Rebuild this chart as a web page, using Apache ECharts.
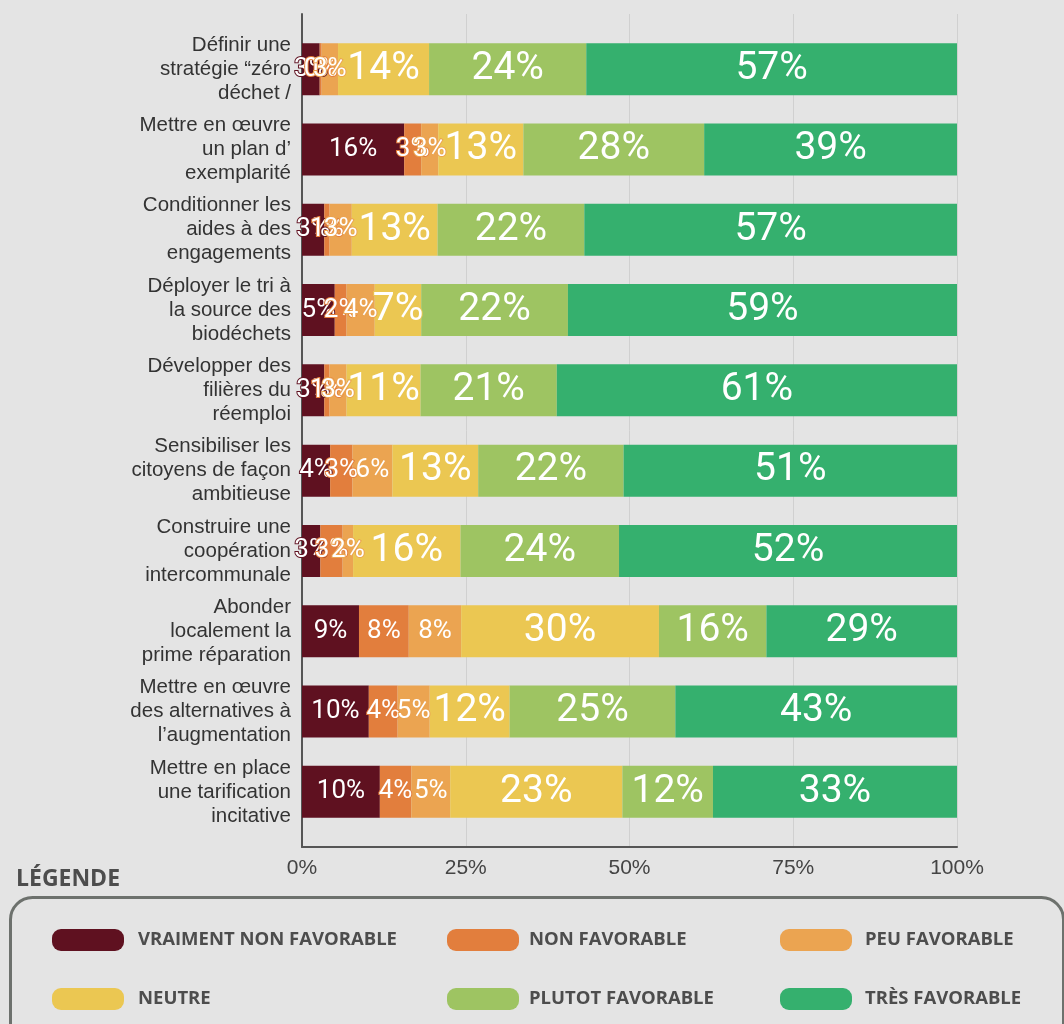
<!DOCTYPE html>
<html>
<head>
<meta charset="utf-8">
<script src="https://cdn.jsdelivr.net/npm/echarts@6/dist/echarts.min.js"></script>
<style>
html,body{margin:0;padding:0;background:#e4e4e4;}
#chart{width:1064px;height:1024px;}
</style>
</head>
<body>
<div id="chart"></div>
<script>
const categories = [
  'Définir une\nstratégie “zéro\ndéchet /',
  'Mettre en œuvre\nun plan d’\nexemplarité',
  'Conditionner les\naides à des\nengagements',
  'Déployer le tri à\nla source des\nbiodéchets',
  'Développer des\nfilières du\nréemploi',
  'Sensibiliser les\ncitoyens de façon\nambitieuse',
  'Construire une\ncoopération\nintercommunale',
  'Abonder\nlocalement la\nprime réparation',
  'Mettre en œuvre\ndes alternatives à\nl’augmentation',
  'Mettre en place\nune tarification\nincitative'
];
const seriesNames = ['VRAIMENT NON FAVORABLE', 'NON FAVORABLE', 'PEU FAVORABLE', 'NEUTRE', 'PLUTOT FAVORABLE', 'TRÈS FAVORABLE'];
const vraimentNonFavorable = [2.7, 15.6, 3.4, 5.0, 3.4, 4.3, 2.8, 8.7, 10.2, 10.4];
const nonFavorable         = [0.3, 2.6, 0.8, 1.8, 0.8, 3.4, 3.4, 7.6, 4.4, 4.2];
const peuFavorable         = [2.5, 2.6, 3.4, 4.3, 2.6, 6.1, 1.6, 8.0, 4.9, 5.2];
const neutre               = [13.9, 13.0, 13.1, 7.1, 11.3, 13.1, 16.4, 30.2, 12.2, 23.0];
const plutotFavorable      = [24.0, 27.6, 22.4, 22.4, 20.8, 22.2, 24.2, 16.4, 25.3, 12.1];
const tresFavorable        = [56.6, 38.6, 56.9, 59.4, 61.1, 50.9, 51.6, 29.1, 43.0, 32.6];
const xTicks = [0, 25, 50, 75, 100];

const rawSeries = [vraimentNonFavorable, nonFavorable, peuFavorable, neutre, plutotFavorable, tresFavorable];
const colors = ['#5f1120', '#e27e3d', '#eba451', '#ebc752', '#9ec462', '#35b06e'];
const labelSizes = [26, 26, 26, 39, 39, 39];

const totals = categories.map((c, i) => rawSeries.reduce((s, arr) => s + arr[i], 0));

const series = rawSeries.map((arr, si) => ({
  name: seriesNames[si],
  type: 'bar',
  stack: 'total',
  xAxisIndex: 0,
  yAxisIndex: 0,
  barWidth: 52,
  itemStyle: { color: colors[si] },
  label: {
    show: true,
    position: 'inside',
    color: '#ffffff',
    fontFamily: 'Roboto',
    fontSize: labelSizes[si],
    textBorderColor: colors[si],
    textBorderWidth: 2,
    formatter: p => Math.round(arr[p.dataIndex]) + '%'
  },
  data: arr.map((v, i) => v / totals[i] * 100)
}));

const legendFont = "'Open Sans', 'Liberation Sans', sans-serif";
const legendIcon = 'path://M9,0H63A9,9,0,0,1,72,9V13A9,9,0,0,1,63,22H9A9,9,0,0,1,0,13V9A9,9,0,0,1,9,0Z';
function makeLegend(names, left, pad) {
  return {
    data: names,
    orient: 'vertical',
    left: left,
    top: 929,
    padding: 0,
    itemWidth: 72,
    itemHeight: 22,
    itemGap: 37,
    icon: legendIcon,
    selectedMode: false,
    textStyle: {
      color: '#4d4d4d',
      fontSize: 18.5,
      fontWeight: 'bold',
      fontFamily: legendFont,
      padding: [0, 0, 0, pad]
    }
  };
}

const chart = echarts.init(document.getElementById('chart'));
chart.setOption({
  backgroundColor: '#e4e4e4',
  animation: false,
  color: colors,
  title: {
    text: 'LÉGENDE',
    left: 11,
    top: 863,
    textStyle: {
      color: '#4d4d4d',
      fontSize: 23,
      fontWeight: 'bold',
      fontFamily: legendFont
    }
  },
  legend: [
    makeLegend([seriesNames[0], seriesNames[3]], 52, 9),
    makeLegend([seriesNames[1], seriesNames[4]], 447, 5),
    makeLegend([seriesNames[2], seriesNames[5]], 780, 8)
  ],
  graphic: [{
    type: 'rect',
    left: 8,
    top: 895,
    shape: { width: 1053, height: 160, r: 22 },
    style: { fill: 'none', stroke: '#6d716d', lineWidth: 3 },
    silent: true
  }],
  grid: [
    { left: 302, right: 107, top: 29, bottom: 192 },
    { left: 302, right: 107, top: 14, bottom: 177 }
  ],
  xAxis: [
    { gridIndex: 0, type: 'value', min: 0, max: 100, show: false },
    {
      gridIndex: 1, type: 'value', min: xTicks[0], max: xTicks[xTicks.length - 1], interval: 25,
      axisLine: { show: true, onZero: false, lineStyle: { color: '#555', width: 2 } },
      axisTick: { show: false },
      splitLine: { show: true, lineStyle: { color: '#d0d0d0', width: 1 } },
      axisLabel: { formatter: '{value}%', color: '#444', fontSize: 21, margin: 11, fontFamily: 'Liberation Sans' }
    }
  ],
  yAxis: [
    {
      gridIndex: 0, type: 'category', data: categories, inverse: true,
      axisLine: { show: false }, axisTick: { show: false }, splitLine: { show: false },
      axisLabel: { color: '#333', fontSize: 20.5, lineHeight: 24, margin: 11, fontFamily: 'Liberation Sans', align: 'right' }
    },
    {
      gridIndex: 1, type: 'value', min: 0, max: 1,
      axisLine: { show: true, onZero: false, lineStyle: { color: '#555', width: 2 } },
      axisTick: { show: false }, axisLabel: { show: false }, splitLine: { show: false }
    }
  ],
  series: series
});
</script>
</body>
</html>
